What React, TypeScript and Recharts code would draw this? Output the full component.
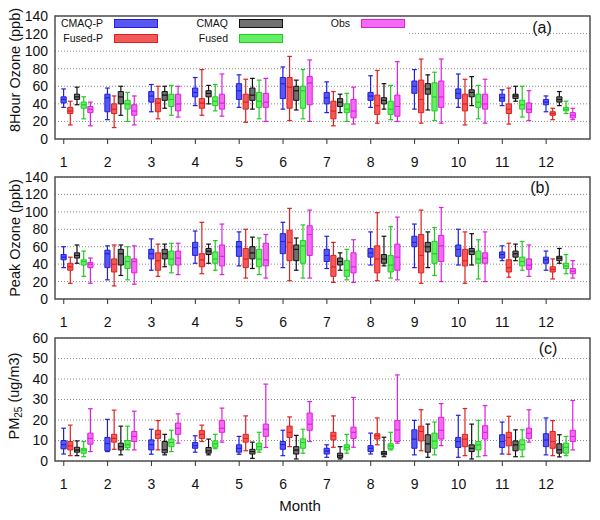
import React from 'react';
import { ComposedChart, Bar, XAxis, YAxis, CartesianGrid, ReferenceArea } from 'recharts';

const MONTHS = [1, 2, 3, 4, 5, 6, 7, 8, 9, 10, 11, 12];
const SERIES = ['CMAQ-P', 'Fused-P', 'CMAQ', 'Fused', 'Obs'];
const OZONE_TICKS = [0, 20, 40, 60, 80, 100, 120, 140];
const PM_TICKS = [0, 10, 20, 30, 40, 50, 60];

// each entry: [min, q1, median, q3, max]
const o8CmaqP = [[36, 41, 45, 48, 57], [22, 31, 47, 51, 58], [31, 42, 49, 54, 62], [38, 48, 53, 58, 70], [36, 45, 55, 63, 73], [34, 46, 63, 70, 82], [30, 40, 47, 53, 65], [36, 44, 49, 53, 72], [34, 52, 60, 66, 79], [36, 46, 52, 57, 74], [38, 43, 47, 51, 56], [31, 39, 42, 45, 49]];
const o8FusedP = [[16, 29, 32, 36, 43], [13, 29, 34, 40, 49], [23, 31, 41, 46, 60], [27, 35, 41, 46, 79], [19, 34, 42, 51, 68], [21, 35, 59, 70, 94], [15, 23, 32, 43, 54], [18, 28, 38, 50, 78], [18, 30, 45, 67, 91], [16, 32, 40, 51, 68], [17, 29, 34, 40, 58], [22, 27, 29, 31, 35]];
const o8Cmaq = [[39, 45, 48, 51, 59], [27, 40, 48, 54, 60], [35, 44, 50, 54, 60], [40, 48, 52, 55, 61], [34, 44, 50, 58, 69], [33, 44, 55, 60, 67], [30, 37, 42, 46, 51], [34, 40, 44, 47, 63], [33, 51, 57, 63, 73], [38, 48, 53, 56, 71], [43, 46, 49, 51, 60], [38, 42, 45, 48, 54]];
const o8Fused = [[23, 35, 39, 42, 48], [20, 34, 40, 44, 53], [27, 37, 45, 51, 61], [32, 38, 43, 48, 62], [23, 36, 43, 53, 67], [23, 35, 55, 60, 79], [20, 30, 34, 40, 52], [22, 28, 34, 43, 61], [21, 32, 48, 64, 76], [23, 36, 42, 51, 61], [25, 34, 39, 44, 60], [29, 32, 34, 36, 43]];
const o8Obs = [[15, 30, 34, 37, 42], [16, 27, 32, 39, 49], [25, 32, 40, 51, 60], [26, 34, 41, 51, 74], [20, 36, 42, 52, 69], [20, 39, 64, 71, 90], [17, 24, 32, 45, 59], [20, 26, 37, 50, 88], [18, 36, 48, 66, 91], [18, 34, 40, 51, 68], [21, 30, 34, 41, 55], [22, 24, 27, 30, 35]];

const pkCmaqP = [[36, 45, 48, 51, 60], [22, 36, 52, 56, 61], [33, 46, 52, 57, 69], [41, 50, 59, 65, 78], [38, 49, 60, 66, 77], [36, 52, 66, 75, 88], [35, 43, 50, 57, 72], [39, 48, 53, 58, 77], [36, 60, 65, 72, 86], [39, 49, 57, 62, 80], [44, 47, 51, 54, 61], [33, 41, 45, 48, 55]];
const pkFusedP = [[18, 33, 37, 41, 48], [15, 31, 40, 46, 62], [26, 33, 44, 53, 63], [29, 37, 45, 52, 88], [24, 36, 46, 58, 80], [21, 44, 65, 79, 104], [19, 26, 37, 50, 65], [21, 30, 46, 61, 99], [18, 30, 50, 74, 102], [18, 38, 44, 57, 77], [25, 31, 36, 45, 64], [23, 31, 34, 37, 46]];
const pkCmaq = [[41, 47, 50, 53, 62], [27, 39, 52, 57, 62], [37, 46, 52, 57, 63], [41, 51, 55, 58, 63], [35, 46, 53, 60, 71], [33, 44, 57, 62, 70], [33, 39, 43, 47, 53], [38, 41, 46, 51, 72], [36, 54, 60, 65, 77], [39, 51, 55, 58, 75], [44, 48, 52, 55, 63], [41, 44, 47, 49, 58]];
const pkFused = [[26, 39, 43, 45, 55], [22, 35, 43, 49, 60], [30, 39, 46, 55, 64], [33, 41, 46, 54, 67], [28, 37, 46, 57, 70], [24, 41, 61, 67, 85], [22, 26, 33, 44, 57], [24, 31, 39, 50, 83], [27, 41, 52, 66, 82], [23, 41, 46, 55, 68], [33, 38, 43, 48, 66], [29, 35, 38, 41, 51]];
const pkObs = [[18, 36, 40, 42, 47], [17, 30, 43, 46, 61], [28, 39, 47, 55, 64], [28, 38, 49, 62, 86], [24, 38, 45, 64, 74], [24, 50, 74, 84, 102], [19, 30, 37, 53, 68], [22, 33, 48, 63, 94], [20, 43, 61, 73, 105], [20, 41, 47, 53, 77], [26, 34, 39, 46, 62], [24, 29, 32, 35, 44]];

const pmCmaqP = [[3.4, 5.9, 8, 10, 16], [4.6, 5, 8.5, 11.5, 20.3], [3.3, 5.4, 8, 10.3, 15.5], [4.3, 6.2, 7.5, 9, 12.3], [3.3, 4.3, 6.2, 7.9, 12], [2.6, 5.7, 8, 9.5, 15], [1.8, 3.4, 4.9, 6.2, 7.9], [3.4, 4.6, 6.2, 7.5, 13.6], [3, 6.2, 10.7, 15.2, 19.8], [1.8, 6.6, 9.5, 11.5, 22.3], [3.4, 6.6, 9.5, 12.8, 19], [3, 7, 10.3, 13.3, 21]];
const pmFusedP = [[2.6, 5.4, 7.4, 9.5, 17.5], [5.7, 9.2, 11, 13, 24.8], [5.4, 11, 13, 15, 19.7], [9.5, 11, 13, 14.8, 17.5], [5, 9.2, 11, 13, 22], [7, 11.5, 14, 17, 21.5], [6.7, 10.3, 12.3, 14, 22], [7.9, 10.7, 12.3, 13.3, 21], [5, 9.8, 14.4, 17, 25], [2.6, 7, 10.7, 13, 25.6], [3.3, 7.4, 11.5, 14, 21.8], [2.6, 6.2, 9.5, 14.4, 19.7]];
const pmCmaq = [[2.6, 4.3, 5.4, 6.7, 9.8], [3, 5.4, 7, 8.7, 17], [3, 4, 5.5, 9.5, 13], [3, 3.8, 5, 6.6, 10.7], [1.3, 3.4, 4.6, 5.7, 9.2], [1, 3.4, 5.4, 7, 12.5], [1, 1.6, 2.6, 3.8, 7], [2.1, 3, 3.8, 4.6, 11.6], [1.8, 4.3, 8.4, 12.8, 18], [1, 4.6, 6.2, 7.9, 18], [2.1, 5, 7.9, 9.8, 15.2], [2, 3.8, 5.5, 8.4, 12.8]];
const pmFused = [[2.1, 3.8, 5.4, 6.2, 9.5], [5.5, 6.5, 8, 10, 17], [4.6, 7, 9, 10.7, 15], [6, 6.7, 8.4, 9.8, 13], [4.3, 5.4, 7, 8.7, 14], [3.8, 6.2, 9, 10.8, 15.5], [3.8, 5.4, 6.7, 7.9, 13], [5.4, 5.9, 7.4, 8.4, 14], [3, 6.2, 9.8, 13.6, 19], [2.1, 5.4, 7.9, 9.5, 19.8], [2.1, 5.4, 8, 10.3, 15.2], [2.6, 3.8, 6.7, 8.7, 12]];
const pmObs = [[4.6, 8.2, 11, 13.6, 25.5], [5.4, 9.5, 12, 14.4, 24.3], [8.7, 13, 16, 18.5, 23], [9.2, 14, 16, 19.7, 25.8], [6.6, 12, 15.5, 18, 37.5], [9.5, 15, 18, 23.4, 29], [6.7, 11, 14, 16.5, 31], [8.7, 9.5, 15.2, 19.7, 42], [7.5, 10.7, 15, 21.3, 28], [2.6, 10.7, 14, 17.2, 27], [9.2, 11, 13.6, 16, 25], [5.4, 9.5, 12, 15, 29.5]];

const FILLS = ['#5858f0', '#f25a5a', '#707070', '#66ee66', '#f46af4'];
const STROKES = ['#1f1fe0', '#e01f1f', '#111111', '#1fcc1f', '#dd1fdd'];
const FONT = '"Liberation Sans", Arial, Helvetica, sans-serif';
const GROUP_SHIFT = 0.3; // boxes start at the month tick

type Stats = number[][];

function buildRows(sets: Stats[]) {
  return MONTHS.map((m, i) => {
    const row: Record<string, number> = { x: m + GROUP_SHIFT };
    sets.forEach((s, k) => {
      const [mn, q1, md, q3, mx] = s[i];
      row[`s${k}_base`] = mn;
      row[`s${k}_lw`] = q1 - mn;
      row[`s${k}_lb`] = md - q1;
      row[`s${k}_ub`] = q3 - md;
      row[`s${k}_uw`] = mx - q3;
    });
    return row;
  });
}

const whisker = (color: string, capOnTop: boolean) => (p: any) => {
  if (p.x == null || p.y == null) return <g />;
  const cx = p.x + p.width / 2;
  const y1 = Math.min(p.y, p.y + p.height);
  const y2 = Math.max(p.y, p.y + p.height);
  const capY = capOnTop ? y1 : y2;
  const half = p.width * 0.45;
  return (
    <g>
      <line x1={cx} x2={cx} y1={y1} y2={y2} stroke={color} strokeWidth={1.2} />
      <line x1={cx - half} x2={cx + half} y1={capY} y2={capY} stroke={color} strokeWidth={1.2} />
    </g>
  );
};

const nothing = () => <g />;

function seriesBars() {
  const out: React.ReactNode[] = [];
  SERIES.forEach((name, k) => {
    const id = `s${k}`;
    out.push(<Bar key={`${id}b`} dataKey={`${id}_base`} stackId={id} shape={nothing} isAnimationActive={false} />);
    out.push(<Bar key={`${id}lw`} dataKey={`${id}_lw`} stackId={id} shape={whisker(STROKES[k], false)} isAnimationActive={false} />);
    out.push(<Bar key={`${id}lb`} dataKey={`${id}_lb`} stackId={id} fill={FILLS[k]} stroke={STROKES[k]} strokeWidth={1} isAnimationActive={false} />);
    out.push(<Bar key={`${id}ub`} dataKey={`${id}_ub`} stackId={id} fill={FILLS[k]} stroke={STROKES[k]} strokeWidth={1} isAnimationActive={false} />);
    out.push(<Bar key={`${id}uw`} dataKey={`${id}_uw`} stackId={id} shape={whisker(STROKES[k], true)} isAnimationActive={false} />);
  });
  return out;
}

function Panel({ sets, yMax, ticks, top, height }: { sets: Stats[]; yMax: number; ticks: number[]; top: number; height: number }) {
  const rows = buildRows(sets);
  return (
    <div style={{ position: 'absolute', left: 0, top }}>
      <ComposedChart width={600} height={height} data={rows} margin={{ top: 16, right: 10, bottom: 0, left: 0 }} barSize={5.2} barGap={1.5}>
        <CartesianGrid vertical={false} stroke="#8c8c8c" strokeDasharray="1 2" />
        <XAxis dataKey="x" type="number" domain={[0.8, 13]} ticks={MONTHS} interval={0} allowDataOverflow axisLine={false}
          tickLine={{ stroke: '#333' }} tickSize={5} tickMargin={13} height={46}
          tick={{ fontSize: 14, fill: '#111', fontFamily: FONT }} />
        <YAxis type="number" domain={[0, yMax]} ticks={ticks} interval={0} allowDataOverflow width={55} axisLine={false}
          tickLine={false} tickSize={0} tickMargin={7} tick={{ fontSize: 14, fill: '#111', fontFamily: FONT }} />
        {seriesBars()}
        <ReferenceArea x1={0.8} x2={13} y1={0} y2={yMax} fill="none" fillOpacity={0} stroke="#505050" strokeWidth={1.5} ifOverflow="visible" />
      </ComposedChart>
    </div>
  );
}

const legendItems = [
  { k: 0, right: 103, top: 19 },
  { k: 1, right: 103, top: 34 },
  { k: 2, right: 228, top: 19 },
  { k: 3, right: 228, top: 34 },
  { k: 4, right: 350, top: 19 },
];

function Legend() {
  return (
    <div style={{ position: 'absolute', left: 57, top: 17, width: 352, height: 29, background: '#fff' }}>
      {legendItems.map((it) => (
        <React.Fragment key={it.k}>
          <div style={{ position: 'absolute', right: 352 - (it.right - 57), top: it.top - 17 - 3, fontSize: 10.5, lineHeight: '14px', color: '#111', whiteSpace: 'nowrap' }}>
            {SERIES[it.k]}
          </div>
          <div style={{ position: 'absolute', left: it.right + 11 - 57, top: it.top - 17, width: 42, height: 7, background: FILLS[it.k], border: `1px solid ${STROKES[it.k]}` }} />
        </React.Fragment>
      ))}
    </div>
  );
}

function RotLabel({ cx, cy, children }: { cx: number; cy: number; children: React.ReactNode }) {
  return (
    <div style={{ position: 'absolute', left: cx, top: cy, transform: 'translate(-50%, -50%) rotate(-90deg)', whiteSpace: 'nowrap', fontSize: 14.5, color: '#111' }}>
      {children}
    </div>
  );
}

function Tag({ cx, cy, text }: { cx: number; cy: number; text: string }) {
  return (
    <div style={{ position: 'absolute', left: cx, top: cy, transform: 'translate(-50%, -50%)', fontSize: 16, color: '#111' }}>{text}</div>
  );
}

export default function App() {
  return (
    <div style={{ position: 'absolute', left: 0, top: 0, width: 600, height: 520, background: '#fff', fontFamily: FONT, overflow: 'hidden' }}>
      <Panel sets={[o8CmaqP, o8FusedP, o8Cmaq, o8Fused, o8Obs]} yMax={140} ticks={OZONE_TICKS} top={0} height={185} />
      <Panel sets={[pkCmaqP, pkFusedP, pkCmaq, pkFused, pkObs]} yMax={140} ticks={OZONE_TICKS} top={161} height={184} />
      <Panel sets={[pmCmaqP, pmFusedP, pmCmaq, pmFused, pmObs]} yMax={60} ticks={PM_TICKS} top={322} height={185} />
      <Legend />
      <Tag cx={542} cy={28} text="(a)" />
      <Tag cx={540} cy={188} text="(b)" />
      <Tag cx={548} cy={349} text="(c)" />
      <RotLabel cx={15} cy={70}>8Hour Ozone (ppb)</RotLabel>
      <RotLabel cx={15} cy={238}>Peak Ozone (ppb)</RotLabel>
      <RotLabel cx={15} cy={396}>PM<sub style={{ fontSize: 10 }}>25</sub> (ug/m3)</RotLabel>
      <div style={{ position: 'absolute', left: 300, top: 505, transform: 'translate(-50%, -50%)', fontSize: 15, color: '#111' }}>Month</div>
    </div>
  );
}
